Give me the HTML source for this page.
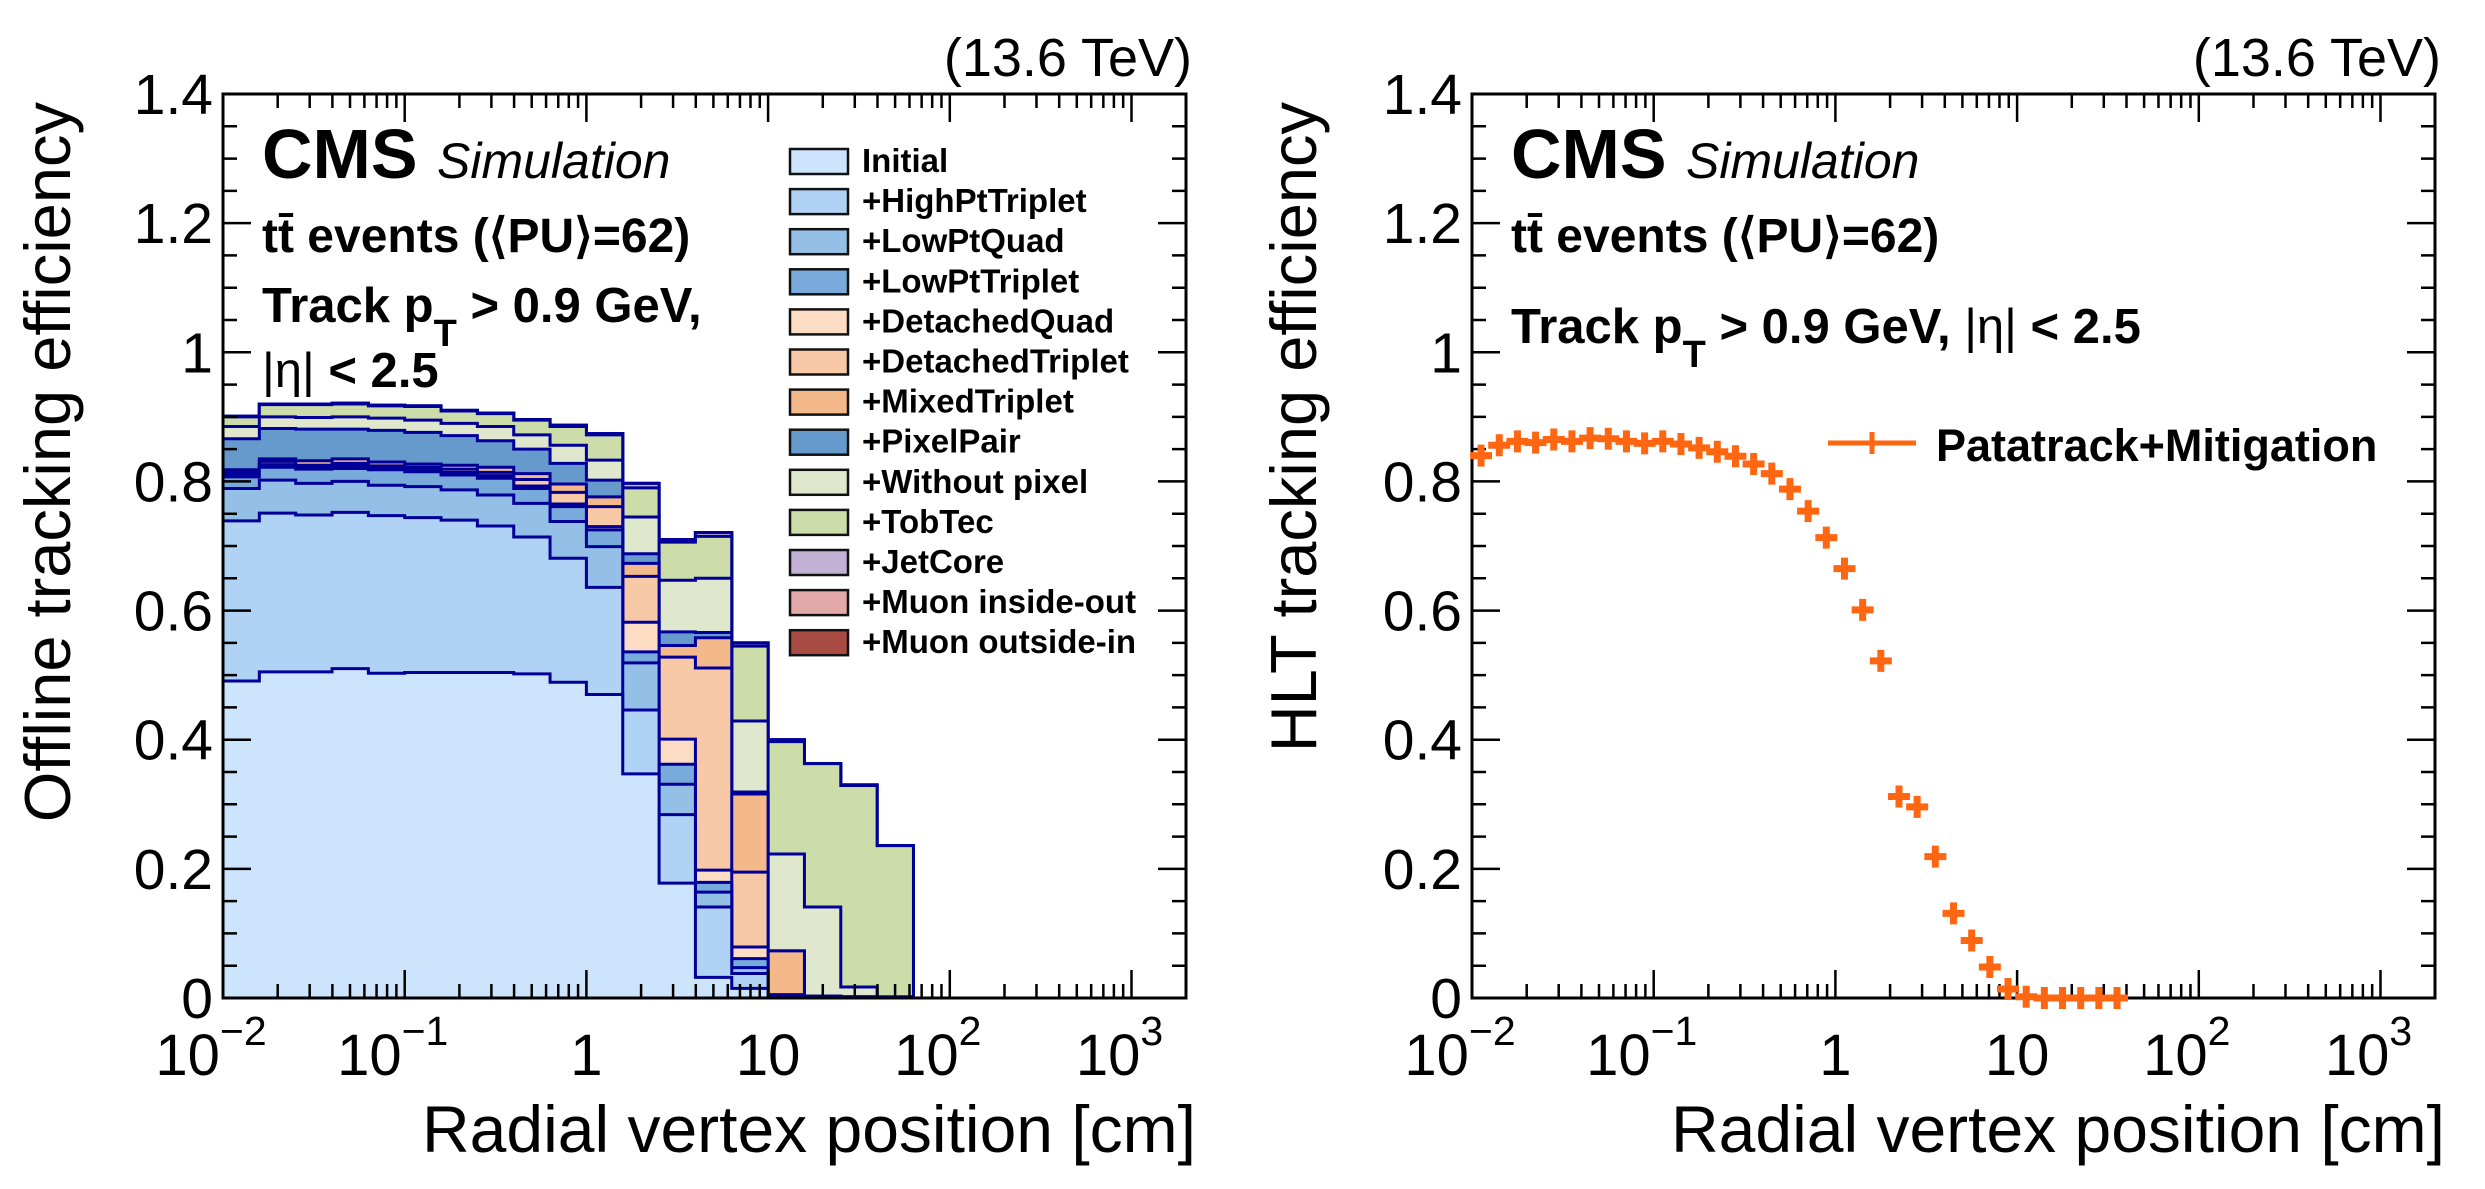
<!DOCTYPE html>
<html><head><meta charset="utf-8"><style>
html,body{margin:0;padding:0;background:#fff;}
svg{display:block;font-family:"Liberation Sans",Arial,sans-serif;}
</style></head><body>
<svg id="fig" width="2485" height="1189" viewBox="0 0 2485 1189" xmlns="http://www.w3.org/2000/svg">
<g id="left"></g>
<g id="right"></g>
</svg>
<script>
// ---- data: offline cumulative efficiency per iteration (19 log bins, 5/decade from 1e-2) ----
const binLogLow = -2, binLogWidth = 0.2;
const effInitial = [.491,.505,.505,.510,.503,.504,.504,.504,.502,.489,.470,.347,.178,.032,.015,.002,0,0,0];
const effHighPtTriplet = [.739,.751,.748,.752,.747,.744,.740,.731,.714,.681,.636,.446,.284,.141,.038,.003,0,0,0];
const effLowPtQuad = [.789,.802,.797,.800,.794,.792,.787,.779,.766,.738,.699,.519,.331,.164,.047,.004,0,0,0];
const effLowPtTriplet = [.807,.822,.819,.820,.818,.815,.810,.805,.789,.761,.725,.536,.362,.179,.061,.004,0,0,0];
const effDetachedQuad = [.810,.826,.822,.824,.822,.818,.814,.809,.793,.765,.730,.582,.401,.198,.079,.005,0,0,0];
const effDetachedTriplet = [.814,.831,.825,.828,.824,.822,.819,.814,.803,.783,.761,.653,.528,.511,.195,.005,0,0,0];
const effMixedTriplet = [.818,.835,.832,.835,.830,.827,.825,.822,.812,.796,.776,.673,.546,.558,.316,.073,.003,.002,0];
const effPixelPair = [.866,.882,.881,.881,.879,.876,.871,.863,.850,.828,.802,.688,.567,.566,.319,.073,.003,.002,0];
const effWithoutPixel = [.885,.900,.899,.900,.898,.895,.890,.885,.872,.856,.833,.745,.647,.650,.429,.223,.141,.017,.002];
const effTobTec = [.900,.919,.919,.920,.917,.916,.909,.905,.895,.885,.872,.790,.706,.715,.545,.397,.363,.329,.236];
const effJetCore = [.901,.920,.920,.921,.918,.917,.910,.906,.896,.887,.874,.797,.710,.721,.550,.400,.363,.330,.236];
const effMuonInsideOut = [.901,.920,.920,.921,.918,.917,.910,.906,.896,.887,.874,.797,.710,.721,.550,.400,.363,.330,.236];
const effMuonOutsideIn = [.901,.920,.920,.921,.918,.917,.910,.906,.896,.887,.874,.797,.710,.721,.550,.400,.363,.330,.236];
const seriesNames = ["Initial","+HighPtTriplet","+LowPtQuad","+LowPtTriplet","+DetachedQuad","+DetachedTriplet","+MixedTriplet","+PixelPair","+Without pixel","+TobTec","+JetCore","+Muon inside-out","+Muon outside-in"];
const seriesColors = ["#cce5fc","#b0d2f4","#94bfe6","#78aadb","#fcdcc2","#f8c9a6","#f4b98a","#6699cc","#dfe8cc","#ccddaa","#c2b1d4","#e3a8a8","#a84b45"];
// ---- data: HLT efficiency (10 bins/decade, centres from 10^-1.95) ----
const hltLogFirst = -1.95, hltLogStep = 0.1;
const hltEff = [.840,.856,.862,.860,.865,.862,.867,.866,.862,.859,.862,.858,.852,.846,.839,.827,.812,.788,.754,.713,.665,.601,.522,.312,.296,.219,.131,.089,.048,.014,.002,0,0,0,0,0];
const yTicks = [0,0.2,0.4,0.6,0.8,1,1.2,1.4];
const yTickLabels = ["0","0.2","0.4","0.6","0.8","1","1.2","1.4"];
const xDecades = [-2,-1,0,1,2,3];
const xDecadeLabels = [["10","\u22122"],["10","\u22121"],["1",""],["10",""],["10","2"],["10","3"]];

const NS="http://www.w3.org/2000/svg";
function mk(tag,attrs,parent){const e=document.createElementNS(NS,tag);for(const k in attrs)e.setAttribute(k,attrs[k]);parent.appendChild(e);return e;}

function panel(g,x0){
  const x1=x0+963, yTop=94, yBot=998, logMin=-2, logMax=3.30;
  const X=l=>x0+(l-logMin)/(logMax-logMin)*(x1-x0);
  const Y=v=>yBot-v*(yBot-yTop)/1.4;
  return {x0,x1,yTop,yBot,X,Y,logMax};
}
function axes(g,P,yTitle,yTitleX){
  const {x0,x1,yTop,yBot,X,Y,logMax}=P;
  const ax=mk('g',{},g);
  
  
  let d='';
  for(let v=0;v<=1.4001;v+=0.05){
    const maj=Math.abs(v/0.2-Math.round(v/0.2))<1e-6;const L=maj?28:14;const y=Y(v);
    d+=`M${x0},${y}h${L}M${x1},${y}h${-L}`;
  }
  for(let dec=-2;dec<=3;dec++){for(let m=1;m<=9;m++){const l=dec+Math.log10(m);if(l>logMax)break;const L=m===1?28:14;const x=X(l);d+=`M${x},${yBot}v${-L}M${x},${yTop}v${L}`;}}
  mk('path',{d:d,stroke:'#000','stroke-width':2.5,fill:'none'},ax);
  const fr=mk('rect',{x:x0,y:yTop,width:x1-x0,height:yBot-yTop,fill:'none',stroke:'#000','stroke-width':3},ax);
  
  
  yTicks.forEach((v,i)=>{const t=mk('text',{x:x0-10,y:Y(v)+20,'font-size':57,'text-anchor':'end'},ax);t.textContent=yTickLabels[i];
    
    });
  xDecades.forEach((l,i)=>{const lab=xDecadeLabels[i];const t=mk('text',{x:X(l)+(lab[1]?-12:0),y:1075,'font-size':58,'text-anchor':'middle'},ax);t.textContent=lab[0];
    
    
    if(lab[1]){const s=mk('tspan',{dy:-30,'font-size':41},t);s.textContent=lab[1];}});
  const xt=mk('text',{x:x1+10,y:1152,'font-size':66,'text-anchor':'end'},ax);xt.textContent='Radial vertex position [cm]';
  
  
  const yt=mk('text',{x:0,y:0,'font-size':65,'text-anchor':'end',transform:`translate(${yTitleX},102) rotate(-90)`},ax);yt.textContent=yTitle;
  
  
  const en=mk('text',{x:x1+6,y:76,'font-size':54,'text-anchor':'end'},ax);en.textContent='(13.6 TeV)';
  
  
  const cms=mk('text',{x:x0+39,y:178,'font-size':70,'font-weight':'bold'},ax);cms.textContent='CMS';
  
  
  const sim=mk('text',{x:x0+214,y:178,'font-size':50,'font-style':'italic'},ax);sim.textContent='Simulation';
  
  
  const tt=mk('text',{x:x0+39,y:252,'font-size':48,'font-weight':'bold'},ax);
  tt.textContent='tt\u0304 events (\u27E8PU\u27E9=62)';
  
  
}
const L=document.getElementById('left'), R=document.getElementById('right');
const PL=panel(L,223), PR=panel(R,1472);

// ---- left stacked histogram ----
const cumSeries=[effInitial,effHighPtTriplet,effLowPtQuad,effLowPtTriplet,effDetachedQuad,effDetachedTriplet,effMixedTriplet,effPixelPair,effWithoutPixel,effTobTec,effJetCore,effMuonInsideOut,effMuonOutsideIn];
const hg=mk('g',{},L);


for(let s=cumSeries.length-1;s>=0;s--){
  const vals=cumSeries[s];
  let d=`M${PL.X(binLogLow)},${PL.Y(0)}`;
  vals.forEach((v,i)=>{const xa=PL.X(binLogLow+i*binLogWidth), xb=PL.X(binLogLow+(i+1)*binLogWidth);d+=`L${xa},${PL.Y(v)}L${xb},${PL.Y(v)}`;});
  d+=`L${PL.X(binLogLow+vals.length*binLogWidth)},${PL.Y(0)}Z`;
  const p=mk('path',{d:d,fill:seriesColors[s],stroke:'#000099','stroke-width':3,'stroke-linejoin':'miter'},hg);
  
  
}
axes(L,PL,'Offline tracking efficiency',70);
{const t=mk('text',{x:262,y:322,'font-size':49,'font-weight':'bold'},L);
 t.innerHTML='Track p<tspan dy="24" font-size="38">T</tspan><tspan dy="-24"> &gt; 0.9 GeV,</tspan>';
 
 
 const e=mk('text',{x:262,y:387,'font-size':49,'font-weight':'bold'},L);
 e.innerHTML='<tspan font-weight="normal">|\u03B7|</tspan> &lt; 2.5';
 
 }
// legend
const lg=mk('g',{},L);


seriesNames.forEach((n,i)=>{
  const y=149+i*40.1;
  const r=mk('rect',{x:790,y:y,width:58,height:25,fill:seriesColors[i],stroke:'#111','stroke-width':2.5},lg);
  
  
  const t=mk('text',{x:862,y:y+23,'font-size':33,'font-weight':'bold'},lg);t.textContent=n;
  
  
});

// ---- right HLT points ----
axes(R,PR,'HLT tracking efficiency',1316);
{const t=mk('text',{x:1511,y:343,'font-size':49,'font-weight':'bold'},R);
 t.innerHTML='Track p<tspan dy="24" font-size="38">T</tspan><tspan dy="-24"> &gt; 0.9 GeV, </tspan><tspan font-weight="normal">|\u03B7|</tspan> &lt; 2.5';
 
 }
const pg=mk('g',{},R);


const orange='#ff6611';
hltEff.forEach((v,i)=>{
  const l=hltLogFirst+i*hltLogStep;
  const xc=PR.X(l), y=PR.Y(v);
  const p=mk('path',{d:`M${xc-11},${y}H${xc+11}M${xc},${y-11}V${y+11}`,stroke:orange,'stroke-width':7,fill:'none'},pg);
  
  
});
{const lx=1828, ly=443;
 const p=mk('path',{d:`M${lx},${ly}H${lx+88}M${lx+44},${ly-11}V${ly+11}M${lx+33},${ly}H${lx+55}`,stroke:orange,'stroke-width':5,fill:'none'},R);
 
 
 const t=mk('text',{x:1936,y:461,'font-size':45,'font-weight':'bold'},R);t.textContent='Patatrack+Mitigation';
 
 }
</script>
</body></html>
